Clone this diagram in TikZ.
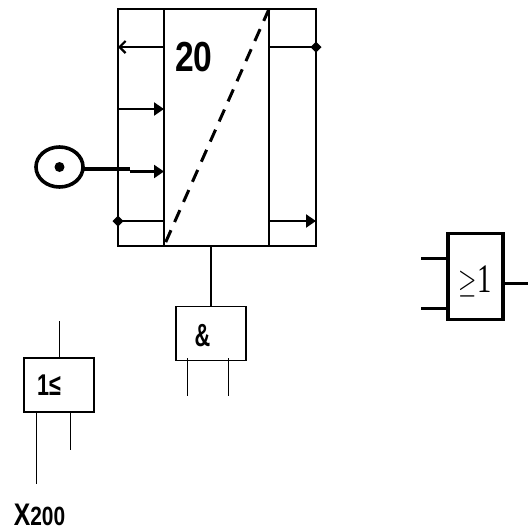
\documentclass[tikz,border=0pt]{standalone}
\usepackage{fontspec}
\setmainfont{Liberation Sans}
\newfontfamily\serifface{Liberation Serif}
\usetikzlibrary{arrows.meta,calc,shapes.geometric}
\tikzset{
  x=1pt,y=-1pt,
  boxmain/.style={draw,line width=2pt,outer sep=0pt,minimum width=198pt,minimum height=237pt,inner sep=0pt,anchor=north west},
  boxcore/.style={draw,line width=1.8pt,outer sep=0pt,minimum width=105pt,minimum height=237pt,inner sep=0pt,anchor=north west},
  gatebox/.style={draw,line width=1.6pt,outer sep=0pt,minimum width=70pt,minimum height=54pt,inner sep=0pt,anchor=north west},
  orbox/.style={draw,line width=3.4pt,outer sep=0pt,minimum width=55pt,minimum height=86pt,inner sep=0pt,anchor=north west},
  wirethin/.style={line width=1.1pt},
  wire/.style={line width=2.2pt},
  wirefat/.style={line width=3pt},
  fillarrow/.style={wire,-{Triangle[length=10pt,width=13pt]}},
  openarrow/.style={wire,-{Straight Barb[length=6pt,width=12pt,line width=2.2pt]}},
  dia/.style={diamond,fill=black,inner sep=0pt,minimum size=11pt,outer sep=0pt},
  lab/.style={inner sep=0pt},
}
\begin{document}
\begin{tikzpicture}
\useasboundingbox (0,0) rectangle (528,531);
\node[boxmain] (main) at (118,9) {};
\node[boxcore] (core) at (164,9) {};
\node[gatebox] (andg) at (176,306.5) {};
\node[gatebox] (org) at (24,358) {};
\node[orbox] (ge) at (448,233.5) {};
% labels
\node[lab,xscale=.8,font=\fontsize{42}{42}\selectfont\bfseries] (t20) at (194,57.5) {20};
\node[lab,font=\fontsize{32}{32}\selectfont\bfseries,xscale=.68] (tand) at (202.5,336) {\&};
\node[lab,font=\fontsize{30}{30}\selectfont\bfseries,xscale=.72] (tor) at (49,385.5) {1≤};
\node[inner sep=0pt,font=\fontsize{30}{30}\selectfont\serifface,xscale=.95,yscale=1.35] (tge) at (475,281) {$\geq$1};
\node[lab,xscale=.95,yscale=1.2] (tx) at (39.5,515) {\fontsize{26}{26}\selectfont\bfseries X\fontsize{22}{22}\selectfont 200};
% main box ports
\coordinate (l1) at (main.west |- 0,47);
\coordinate (c1) at (core.west |- 0,47);
\coordinate (l2) at (main.west |- 0,109);
\coordinate (c2) at (core.west |- 0,109);
\coordinate (l3) at (130,171.5);
\coordinate (c3) at (core.west |- 0,171.5);
\coordinate (l4) at (main.west |- 0,221);
\coordinate (c4) at (core.west |- 0,221);
\coordinate (r1) at (main.east |- 0,47);
\coordinate (d1) at (core.east |- 0,47);
\coordinate (r4) at (main.east |- 0,221);
\coordinate (d4) at (core.east |- 0,221);
\draw[openarrow] (c1) -- (l1);
\draw[fillarrow] (l2) -- (c2);
\draw[fillarrow] (l3) -- (c3);
\draw[wire] (c4) -- (l4);
\draw[wire] (d1) -- (r1);
\draw[fillarrow] (d4) -- (r4);
\node[dia] (dr) at (r1) {};
\node[dia] (dl) at (l4) {};
\draw[line width=3pt,dash pattern=on 13pt off 9pt] (core.north east) -- (core.south west);
% contact
\node[draw,ellipse,line width=3.6pt,minimum width=47pt,minimum height=40pt,inner sep=0pt,outer sep=0pt] (sw) at (59.5,167) {};
\node[circle,fill=black,minimum size=10pt,inner sep=0pt] (swd) at (59.5,167) {};
\draw[line width=4pt] (sw.east |- 0,169) -- (l3 |- 0,169);
% gate wires
\coordinate (a0) at (211,246);
\draw[wirethin,line width=1.4pt] (a0) -- (a0 |- andg.north);
\coordinate (a1t) at (187.5,358);
\coordinate (a2t) at (228.5,358);
\coordinate (a1) at (187.5,396);
\coordinate (a2) at (228.5,396);
\draw[wirethin] (a1t) -- (a1);
\draw[wirethin] (a2t) -- (a2);
\coordinate (o0) at (59.5,321);
\coordinate (o1) at (36.5,484);
\coordinate (o2) at (70.5,450);
\draw[wirethin] (o0) -- (org.north -| o0);
\draw[wirethin] (org.south -| o1) -- (o1);
\draw[wirethin] (org.south -| o2) -- (o2);
\coordinate (g1) at (421,258.5);
\coordinate (g2) at (421,308.5);
\coordinate (g3) at (528,283.5);
\draw[wirefat] (g1) -- (g1 -| ge.west);
\draw[wirefat] (g2) -- (g2 -| ge.west);
\draw[wirefat] (g3 -| ge.east) -- (g3);
\end{tikzpicture}
\end{document}
